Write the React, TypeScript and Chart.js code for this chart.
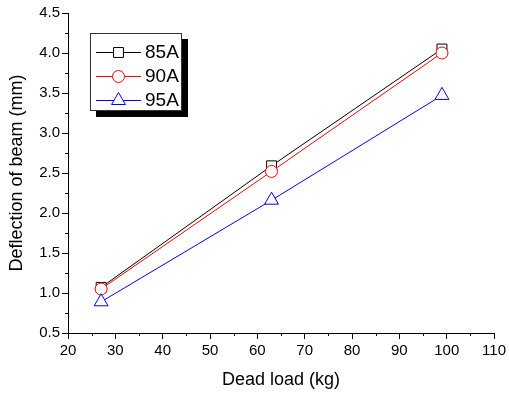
import React, { useEffect, useRef } from "react";
import { Chart, registerables } from "chart.js";

Chart.register(...registerables);

const loads = [27, 63, 99];
const series85A = [1.07, 2.59, 4.05];
const series90A = [1.05, 2.52, 4.0];
const series95A = [0.89, 2.16, 3.47];
const seriesLabels = ["85A", "90A", "95A"];
const xMinorTicks = [25, 35, 45, 55, 65, 75, 85, 95, 105];
const yMinorTicks = [0.75, 1.25, 1.75, 2.25, 2.75, 3.25, 3.75, 4.25];

const FONT = "'Liberation Sans', Arial, sans-serif";

function drawMarker(ctx: CanvasRenderingContext2D, style: string, x: number, y: number, r: number, color: string) {
  ctx.save();
  ctx.beginPath();
  if (style === "rect") {
    const s = Math.SQRT1_2 * r;
    ctx.rect(x - s, y - s, 2 * s, 2 * s);
  } else if (style === "circle") {
    ctx.arc(x, y, r, 0, Math.PI * 2);
  } else {
    let a = 0;
    ctx.moveTo(x + Math.sin(a) * r, y - Math.cos(a) * r);
    a += (2 * Math.PI) / 3;
    ctx.lineTo(x + Math.sin(a) * r, y - Math.cos(a) * r);
    a += (2 * Math.PI) / 3;
    ctx.lineTo(x + Math.sin(a) * r, y - Math.cos(a) * r);
    ctx.closePath();
  }
  ctx.fillStyle = "#ffffff";
  ctx.fill();
  ctx.lineWidth = 1;
  ctx.strokeStyle = color;
  ctx.stroke();
  ctx.restore();
}

const extrasPlugin = {
  id: "extras",
  afterDraw(chart: any) {
    const ctx: CanvasRenderingContext2D = chart.ctx;
    const xs = chart.scales.x;
    const ys = chart.scales.y;
    const area = chart.chartArea;
    ctx.save();
    ctx.strokeStyle = "#000";
    ctx.lineWidth = 1;
    ctx.beginPath();
    xMinorTicks.forEach((v) => {
      const px = Math.round(xs.getPixelForValue(v)) + 0.5;
      ctx.moveTo(px, area.bottom);
      ctx.lineTo(px, area.bottom + 3);
    });
    yMinorTicks.forEach((v) => {
      const py = Math.round(ys.getPixelForValue(v)) + 0.5;
      ctx.moveTo(area.left, py);
      ctx.lineTo(area.left - 3, py);
    });
    ctx.stroke();

    // legend
    const bx = 90, by = 33, bw = 92, bh = 78;
    ctx.fillStyle = "#000";
    ctx.fillRect(bx + 6, by + 6, bw, bh);
    ctx.fillStyle = "#fff";
    ctx.fillRect(bx, by, bw, bh);
    ctx.strokeStyle = "#333";
    ctx.strokeRect(bx + 0.5, by + 0.5, bw - 1, bh - 1);
    const rows = [52, 76, 100];
    chart.data.datasets.forEach((ds: any, i: number) => {
      const y = rows[i] + 0.5;
      ctx.beginPath();
      ctx.strokeStyle = ds.borderColor;
      ctx.lineWidth = 1;
      ctx.moveTo(96, y);
      ctx.lineTo(141, y);
      ctx.stroke();
      drawMarker(ctx, ds.pointStyle, 118.5, y, ds.pointRadius, ds.borderColor);
      ctx.fillStyle = "#000";
      ctx.font = `19px ${FONT}`;
      ctx.textBaseline = "middle";
      ctx.textAlign = "left";
      ctx.fillText(ds.label, 145, rows[i] + 1);
    });
    ctx.restore();
  },
};

export default function App() {
  const ref = useRef<HTMLCanvasElement | null>(null);
  useEffect(() => {
    if (!ref.current) return;
    const mk = (vals: number[]) => loads.map((x, i) => ({ x, y: vals[i] }));
    const chart = new Chart(ref.current, {
      type: "line",
      data: {
        datasets: [
          {
            label: seriesLabels[0],
            data: mk(series85A),
            order: 2,
            borderColor: "#000000",
            borderWidth: 1,
            pointStyle: "rect",
            pointRadius: 7,
            pointBackgroundColor: "#ffffff",
            pointBorderColor: "#000000",
            pointBorderWidth: 1,
          },
          {
            label: seriesLabels[1],
            data: mk(series90A),
            order: 1,
            borderColor: "#ff0000",
            borderWidth: 1,
            pointStyle: "circle",
            pointRadius: 6,
            pointBackgroundColor: "#ffffff",
            pointBorderColor: "#ff0000",
            pointBorderWidth: 1,
          },
          {
            label: seriesLabels[2],
            data: mk(series95A),
            order: 0,
            borderColor: "#0000ff",
            borderWidth: 1,
            pointStyle: "triangle",
            pointRadius: 8,
            pointBackgroundColor: "#ffffff",
            pointBorderColor: "#0000ff",
            pointBorderWidth: 1,
          },
        ] as any,
      },
      options: {
        animation: false,
        responsive: false,
        devicePixelRatio: 1,
        layout: { padding: { left: 0, right: 14, top: 13, bottom: 0 } },
        plugins: { legend: { display: false }, tooltip: { enabled: false } },
        scales: {
          x: {
            type: "linear",
            min: 20,
            max: 110,
            afterFit: (s: any) => {
              s.height = 61;
            },
            ticks: { stepSize: 10, color: "#000", font: { family: FONT, size: 15 }, padding: 3, maxRotation: 0 },
            grid: { drawOnChartArea: false, drawTicks: true, tickLength: 6, color: "#000" },
            border: { display: true, color: "#000", width: 1 },
            title: {
              display: true,
              text: "Dead load (kg)",
              color: "#000",
              font: { family: FONT, size: 18 },
              padding: { top: 0, bottom: 3 },
            },
          },
          y: {
            type: "linear",
            min: 0.5,
            max: 4.5,
            afterFit: (s: any) => {
              s.width = 68;
            },
            ticks: {
              stepSize: 0.5,
              color: "#000",
              font: { family: FONT, size: 15 },
              padding: 2,
              callback: (v: any) => Number(v).toFixed(1),
            },
            grid: { drawOnChartArea: false, drawTicks: true, tickLength: 6, color: "#000" },
            border: { display: true, color: "#000", width: 1 },
            title: {
              display: true,
              text: "Deflection of beam (mm)",
              color: "#000",
              font: { family: FONT, size: 18 },
              padding: { top: 6, bottom: 0 },
            },
          },
        },
      },
      plugins: [extrasPlugin],
    });
    return () => chart.destroy();
  }, []);
  return (
    <div style={{ position: "absolute", left: 0, top: 0, width: 509, height: 394 }}>
      <canvas ref={ref} width={509} height={394} />
    </div>
  );
}
